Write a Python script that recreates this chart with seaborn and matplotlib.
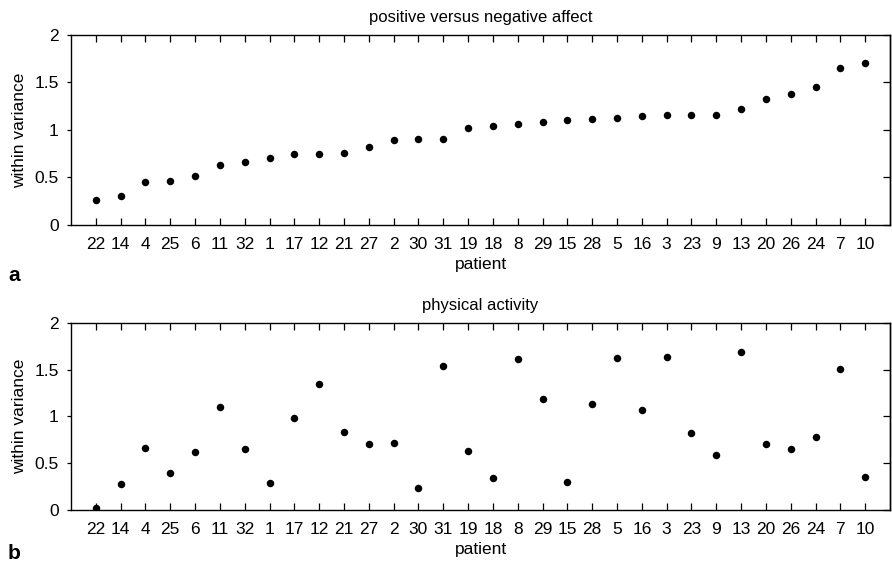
import matplotlib
matplotlib.use("Agg")
import matplotlib.pyplot as plt
import seaborn as sns
import pandas as pd

# --- DATA ---
patients = ["22", "14", "4", "25", "6", "11", "32", "1", "17", "12", "21", "27", "2", "30", "31",
            "19", "18", "8", "29", "15", "28", "5", "16", "3", "23", "9", "13", "20", "26", "24", "7", "10"]
affect_var = [0.26, 0.30, 0.45, 0.46, 0.52, 0.63, 0.66, 0.70, 0.75, 0.75, 0.76, 0.82, 0.89, 0.90, 0.90,
              1.02, 1.04, 1.06, 1.08, 1.11, 1.12, 1.13, 1.15, 1.16, 1.16, 1.16, 1.22, 1.33, 1.38, 1.45, 1.65, 1.71]
activity_var = [0.02, 0.28, 0.66, 0.40, 0.62, 1.10, 0.65, 0.29, 0.98, 1.35, 0.83, 0.70, 0.72, 0.24, 1.54,
                0.63, 0.34, 1.61, 1.19, 0.30, 1.13, 1.62, 1.07, 1.63, 0.82, 0.59, 1.69, 0.70, 0.65, 0.78, 1.51, 0.35]
titles = ["positive versus negative affect", "physical activity"]
panel_tags = ["a", "b"]
yticks = [0, 0.5, 1, 1.5, 2]
ytick_labels = ["0", "0.5", "1", "1.5", "2"]

sns.set_style("white")
plt.rcParams['font.family'] = ['Liberation Sans', 'DejaVu Sans']
plt.rcParams['text.color'] = 'black'
plt.rcParams['axes.labelcolor'] = 'black'
plt.rcParams['xtick.color'] = 'black'
plt.rcParams['ytick.color'] = 'black'

fig = plt.figure(figsize=(8.92, 5.69), dpi=100)
ax_top = fig.add_axes([0.0796, 0.6046, 0.9182, 0.3339])
ax_bot = fig.add_axes([0.0796, 0.1037, 0.9182, 0.3292])

# baseline y (figure fraction) of the panel letters
tag_y = [0.506, 0.018]

for ax, vals, title, tag, ty in zip([ax_top, ax_bot], [affect_var, activity_var], titles, panel_tags, tag_y):
    df = pd.DataFrame({"patient": patients, "variance": vals})
    sns.stripplot(data=df, x="patient", y="variance", order=patients, jitter=False,
                  color="black", size=5.4, linewidth=0, ax=ax)
    ax.set_xlim(-1, len(patients))
    ax.set_ylim(0, 2)
    ax.set_yticks(yticks)
    ax.set_yticklabels(ytick_labels)
    ax.set_title(title, fontsize=12, pad=9)
    ax.set_xlabel("patient", fontsize=12.5, labelpad=3)
    ax.set_ylabel("within variance", fontsize=12.5, labelpad=5)
    for sp in ax.spines.values():
        sp.set_visible(True)
        sp.set_color("black")
        sp.set_linewidth(1.0)
    ax.tick_params(axis="x", direction="in", length=5, width=0.9, top=True, bottom=True,
                   labelsize=12.5, pad=9)
    # left ticks short and outward, right ticks inward
    ax.tick_params(axis="y", direction="out", length=3, width=0.9, left=True, right=False,
                   labelsize=12.5, pad=6)
    right = ax.secondary_yaxis("right")
    right.set_yticks(yticks)
    right.tick_params(axis="y", direction="in", length=5, width=0.9, labelright=False)
    right.spines["right"].set_linewidth(1.0)
    ax.grid(False)
    fig.text(0.009, ty, tag, fontsize=15, fontweight="bold", va="baseline")

fig.savefig("out.png", dpi=100)
